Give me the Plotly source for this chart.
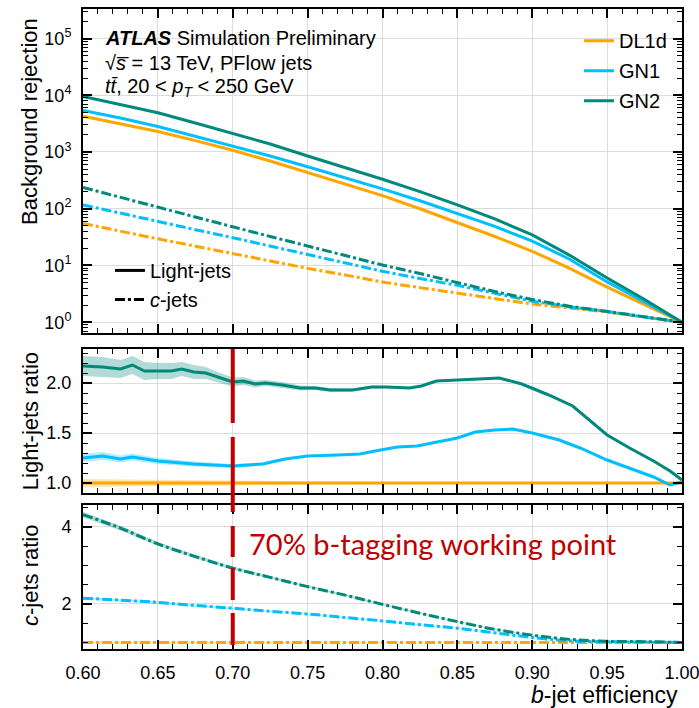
import plotly.graph_objects as go
from plotly.subplots import make_subplots

# ---------------- data ----------------
x_eff = [0.600, 0.625, 0.650, 0.675, 0.700, 0.725, 0.750, 0.775, 0.800,
         0.825, 0.850, 0.875, 0.900, 0.925, 0.950, 0.975, 1.000]

dl1d_light_rej = [4270, 3160, 2290, 1585, 1070, 692, 437, 275, 170, 100, 57.5, 32.4, 17.8, 8.9, 4.17, 2.04, 1.0]
gn1_light_rej = [5370, 3980, 2820, 1905, 1260, 851, 550, 355, 224, 138, 83, 49, 26.9, 12.9, 5.13, 2.24, 1.0]
gn2_light_rej = [9500, 6760, 4900, 3240, 2140, 1380, 851, 537, 331, 200, 117, 66, 34.7, 15.1, 6.03, 2.51, 1.0]

dl1d_c_rej = [55, 39.8, 29.5, 21.9, 16.2, 12.0, 8.9, 6.8, 5.1, 4.07, 3.24, 2.57, 2.09, 1.78, 1.51, 1.23, 1.0]
gn1_c_rej = [117, 83, 60, 42.7, 30.9, 21.9, 15.5, 11.2, 7.9, 5.9, 4.47, 3.24, 2.34, 1.86, 1.55, 1.23, 1.0]
gn2_c_rej = [237, 158, 105, 71, 48, 32.4, 21.9, 15.1, 10.2, 7.2, 5.0, 3.47, 2.51, 1.91, 1.55, 1.26, 1.0]

# light-jet ratio (to DL1d)
x_gn2_lratio = [0.600, 0.613, 0.625, 0.633, 0.641, 0.650, 0.659, 0.666, 0.674, 0.682, 0.690,
                0.700, 0.707, 0.715, 0.722, 0.733, 0.745, 0.755, 0.765, 0.780, 0.793, 0.803,
                0.818, 0.826, 0.836, 0.850, 0.865, 0.878, 0.893, 0.900, 0.911, 0.927, 0.938,
                0.950, 0.965, 0.981, 0.992, 1.000]
gn2_lratio = [2.17, 2.16, 2.14, 2.18, 2.12, 2.12, 2.12, 2.14, 2.11, 2.10, 2.06,
              2.01, 2.02, 1.99, 2.00, 1.98, 1.95, 1.95, 1.93, 1.93, 1.96, 1.96,
              1.95, 1.97, 2.02, 2.03, 2.04, 2.05, 1.99, 1.95, 1.88, 1.77, 1.63,
              1.48, 1.35, 1.22, 1.12, 1.03]
gn2_lratio_err = [0.10, 0.10, 0.09, 0.09, 0.09, 0.08, 0.08, 0.07, 0.07, 0.06, 0.05,
                  0.045, 0.04, 0.035, 0.03, 0.03, 0.025, 0.02, 0.02, 0.015, 0.015, 0.012,
                  0.01, 0.01, 0.01, 0.008, 0.007, 0.006, 0.005, 0.005, 0.005, 0.004, 0.004,
                  0.003, 0.003, 0.002, 0.002, 0.0]

x_gn1_lratio = [0.600, 0.613, 0.625, 0.633, 0.650, 0.674, 0.700, 0.720, 0.735, 0.750,
                0.770, 0.785, 0.795, 0.810, 0.823, 0.840, 0.850, 0.862, 0.875, 0.887,
                0.900, 0.918, 0.932, 0.950, 0.965, 0.981, 0.992, 1.000]
gn1_lratio = [1.25, 1.27, 1.24, 1.26, 1.22, 1.19, 1.17, 1.19, 1.24, 1.27,
              1.28, 1.29, 1.32, 1.36, 1.37, 1.42, 1.45, 1.51, 1.53, 1.54,
              1.50, 1.43, 1.35, 1.23, 1.15, 1.06, 0.98, 1.01]
gn1_lratio_err = [0.04, 0.04, 0.035, 0.035, 0.03, 0.025, 0.02, 0.015, 0.012, 0.01,
                  0.008, 0.007, 0.006, 0.005, 0.005, 0.004, 0.004, 0.004, 0.003, 0.003,
                  0.003, 0.003, 0.002, 0.002, 0.002, 0.002, 0.001, 0.0]

dl1d_lratio = [1.0] * 17
dl1d_lratio_err = [0.04, 0.035, 0.03, 0.028, 0.025, 0.02, 0.016, 0.013, 0.01,
                   0.008, 0.007, 0.006, 0.005, 0.004, 0.003, 0.002, 0.0]

# c-jet ratio (to DL1d)
gn2_cratio = [4.32, 3.97, 3.56, 3.23, 2.93, 2.69, 2.45, 2.23, 1.99, 1.76, 1.54, 1.34, 1.19, 1.08, 1.03, 1.02, 1.00]
gn2_cratio_err = [0.07, 0.06, 0.05, 0.045, 0.04, 0.035, 0.03, 0.025, 0.02, 0.02, 0.015, 0.015, 0.01, 0.01, 0.01, 0.01, 0.0]
gn1_cratio = [2.15, 2.10, 2.04, 1.96, 1.89, 1.81, 1.74, 1.65, 1.56, 1.46, 1.37, 1.25, 1.13, 1.04, 1.02, 1.01, 1.00]
gn1_cratio_err = [0.03, 0.03, 0.025, 0.02, 0.02, 0.015, 0.015, 0.012, 0.01, 0.01, 0.01, 0.008, 0.006, 0.005, 0.004, 0.003, 0.0]
dl1d_cratio = [1.0] * 17
dl1d_cratio_err = [0.02, 0.018, 0.015, 0.012, 0.01, 0.01, 0.008, 0.007, 0.006, 0.005, 0.004, 0.004, 0.003, 0.002, 0.002, 0.001, 0.0]

taggers = ["DL1d", "GN1", "GN2"]
x_ticks = [0.60, 0.65, 0.70, 0.75, 0.80, 0.85, 0.90, 0.95, 1.00]
working_point = 0.70
wp_label = "70% b-tagging working point"

# ---------------- style ----------------
COL = {"DL1d": "#FFA500", "GN1": "#00BFFF", "GN2": "#00897B"}
RGB = {"DL1d": (255, 165, 0), "GN1": (0, 191, 255), "GN2": (0, 137, 123)}
FONT = "Liberation Sans, Arial, sans-serif"
DASHDOT = "10px,3px,3px,3px"
LW = 3

fig = make_subplots(rows=3, cols=1, shared_xaxes=True)


def band(x, y, e, name, row):
    up = [a + b for a, b in zip(y, e)]
    lo = [a - b for a, b in zip(y, e)]
    r, g, b = RGB[name]
    fig.add_trace(go.Scatter(x=list(x) + list(x)[::-1], y=up + lo[::-1], fill="toself",
                             fillcolor=f"rgba({r},{g},{b},0.3)", line=dict(width=0),
                             mode="lines", hoverinfo="skip", showlegend=False),
                  row=row, col=1)


# top panel
light = {"DL1d": dl1d_light_rej, "GN1": gn1_light_rej, "GN2": gn2_light_rej}
cjet = {"DL1d": dl1d_c_rej, "GN1": gn1_c_rej, "GN2": gn2_c_rej}
for t in taggers:
    fig.add_trace(go.Scatter(x=x_eff, y=cjet[t], mode="lines",
                             line=dict(color=COL[t], width=LW, dash=DASHDOT),
                             showlegend=False), row=1, col=1)
for t in taggers:
    fig.add_trace(go.Scatter(x=x_eff, y=light[t], mode="lines", name=t, legendgroup=t,
                             line=dict(color=COL[t], width=LW), legend="legend"),
                  row=1, col=1)

# line-style legend
fig.add_trace(go.Scatter(x=[None], y=[None], mode="lines", name="Light-jets", legendgroup="l",
                         line=dict(color="black", width=LW), legend="legend2"), row=1, col=1)
fig.add_trace(go.Scatter(x=[None], y=[None], mode="lines", name="<i>c</i>-jets", legendgroup="c",
                         line=dict(color="black", width=LW, dash=DASHDOT), legend="legend2"), row=1, col=1)

# middle panel
band(x_eff, dl1d_lratio, dl1d_lratio_err, "DL1d", 2)
band(x_gn1_lratio, gn1_lratio, gn1_lratio_err, "GN1", 2)
band(x_gn2_lratio, gn2_lratio, gn2_lratio_err, "GN2", 2)
fig.add_trace(go.Scatter(x=x_eff, y=dl1d_lratio, mode="lines", line=dict(color=COL["DL1d"], width=LW),
                         showlegend=False), row=2, col=1)
fig.add_trace(go.Scatter(x=x_gn1_lratio, y=gn1_lratio, mode="lines", line=dict(color=COL["GN1"], width=LW),
                         showlegend=False), row=2, col=1)
fig.add_trace(go.Scatter(x=x_gn2_lratio, y=gn2_lratio, mode="lines", line=dict(color=COL["GN2"], width=LW),
                         showlegend=False), row=2, col=1)

# bottom panel
band(x_eff, dl1d_cratio, dl1d_cratio_err, "DL1d", 3)
band(x_eff, gn1_cratio, gn1_cratio_err, "GN1", 3)
band(x_eff, gn2_cratio, gn2_cratio_err, "GN2", 3)
for t, yv in (("DL1d", dl1d_cratio), ("GN1", gn1_cratio), ("GN2", gn2_cratio)):
    fig.add_trace(go.Scatter(x=x_eff, y=yv, mode="lines", line_shape="spline",
                             line=dict(color=COL[t], width=LW, dash=DASHDOT),
                             showlegend=False), row=3, col=1)

# ---------------- axes ----------------
TICKSIZE = 18
axis_common = dict(showline=True, linecolor="black", linewidth=2, mirror="allticks",
                   ticks="inside", ticklen=9, tickwidth=1.5, tickcolor="black",
                   showgrid=True, gridcolor="#dcdcdc", gridwidth=1, zeroline=False,
                   tickfont=dict(family=FONT, size=TICKSIZE, color="black"),
                   ticklabeloverflow="allow", automargin=False)

minor_x = dict(ticks="inside", ticklen=5, tickwidth=1.2, tickcolor="black",
               tickmode="linear", tick0=0.6, dtick=0.01, showgrid=False)
for i, ax in enumerate(["xaxis", "xaxis2", "xaxis3"]):
    fig.layout[ax].update(axis_common)
    fig.layout[ax].update(range=[0.6, 1.0], tickmode="array", tickvals=x_ticks,
                          ticktext=["%.2f" % v for v in x_ticks],
                          minor=minor_x, showticklabels=(i == 2), ticklabelstandoff=6)

log_major = [1, 10, 100, 1e3, 1e4, 1e5]
log_text = ["10<sup>%d</sup>" % k for k in range(6)]
log_minor = [m * 10 ** k for k in range(-1, 6) for m in range(2, 10)]
fig.layout.yaxis.update(axis_common)
fig.layout.yaxis.update(type="log", range=[-0.19, 5.52], tickmode="array", tickvals=log_major,
                        ticktext=log_text, ticklabelstandoff=6,
                        minor=dict(ticks="inside", ticklen=5, tickwidth=1.2, tickcolor="black",
                                   tickmode="array", tickvals=log_minor, showgrid=False))
fig.layout.yaxis2.update(axis_common)
fig.layout.yaxis2.update(range=[0.90, 2.34], tick0=0, dtick=0.5, tickformat=".1f", ticklabelstandoff=6,
                         minor=dict(ticks="inside", ticklen=5, tickwidth=1.2, tickcolor="black",
                                    dtick=0.1, showgrid=False))
fig.layout.yaxis3.update(axis_common)
fig.layout.yaxis3.update(range=[0.83, 4.57], tick0=0, dtick=2, ticklabelstandoff=6,
                         minor=dict(ticks="inside", ticklen=5, tickwidth=1.2, tickcolor="black",
                                    dtick=0.5, showgrid=False))

# panel positions
fig.layout.yaxis.domain = [0.49375, 1.0]
fig.layout.yaxis2.domain = [0.24375, 0.46875]
fig.layout.yaxis3.domain = [0.0, 0.225]

# ---------------- annotations ----------------
ann = []
txt = dict(family=FONT, size=20, color="black")
ann.append(dict(text="<b><i>ATLAS</i></b> Simulation Preliminary", x=0.0334, y=0.9547,
                xref="paper", yref="paper", xanchor="left", yanchor="middle", showarrow=False, font=txt))
ann.append(dict(text="√<i>s̅</i> = 13 TeV, PFlow jets", x=0.0334, y=0.9156,
                xref="paper", yref="paper", xanchor="left", yanchor="middle", showarrow=False, font=txt))
ann.append(dict(text="<i>tt̄</i>, 20 &lt; <i>p</i><sub><i>T</i></sub> &lt; 250 GeV", x=0.0334, y=0.878,
                xref="paper", yref="paper", xanchor="left", yanchor="middle", showarrow=False, font=txt))
# axis titles
ytitle = dict(family=FONT, size=22, color="black")
ann.append(dict(text="Background rejection", textangle=-90, x=-0.0885, y=0.99, xref="paper", yref="paper",
                xanchor="center", yanchor="top", showarrow=False, font=ytitle))
ann.append(dict(text="Light-jets ratio", textangle=-90, x=-0.0885, y=0.356, xref="paper", yref="paper",
                xanchor="center", yanchor="middle", showarrow=False, font=ytitle))
ann.append(dict(text="<i>c</i>-jets ratio", textangle=-90, x=-0.0885, y=0.1156, xref="paper", yref="paper",
                xanchor="center", yanchor="middle", showarrow=False, font=ytitle))
ann.append(dict(text="<i>b</i>-jet efficiency", x=0.9967, y=-0.0715, xref="paper", yref="paper",
                xanchor="right", yanchor="middle", showarrow=False,
                font=dict(family=FONT, size=23, color="black")))
ann.append(dict(text=wp_label, x=0.2738, y=0.1656, xref="paper", yref="paper",
                xanchor="left", yanchor="middle", showarrow=False,
                font=dict(family="Lato, Open Sans, sans-serif", size=29, color="#C00000")))

fig.update_layout(
    annotations=ann,
    shapes=[dict(type="line", xref="x3", yref="paper", x0=working_point, x1=working_point,
                 y0=0.46875, y1=0.0,
                 line=dict(color="#C00000", width=4,
                           dash="74px,14px,75px,14px,31px,11px,32px,13px,32px,20px"))],
    width=699, height=708,
    margin=dict(l=83, r=17, t=9, b=59, autoexpand=False),
    paper_bgcolor="white", plot_bgcolor="white",
    font=dict(family=FONT, size=20, color="black"),
    legend=dict(x=0.828, y=0.981, xanchor="left", yanchor="top", bgcolor="rgba(0,0,0,0)",
                font=dict(family=FONT, size=20), tracegroupgap=1),
    legend2=dict(x=0.045, y=0.622, xanchor="left", yanchor="top", bgcolor="rgba(0,0,0,0)",
                 font=dict(family=FONT, size=20), tracegroupgap=0),
)

fig.write_html("out.html")
